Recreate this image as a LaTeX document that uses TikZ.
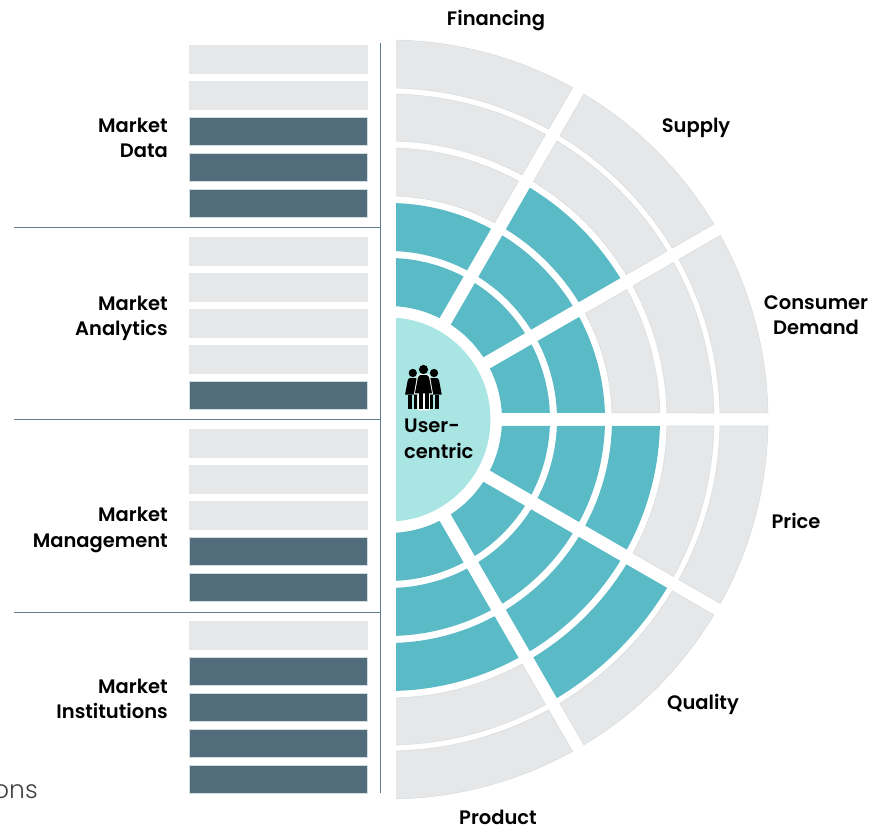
\documentclass[tikz,border=0pt]{standalone}
\usepackage{fontspec}
\setmainfont{Poppins}[BoldFont={Poppins SemiBold}]
\newfontfamily\stubfont{Poppins Light}
\usepackage{xcolor}
\usetikzlibrary{positioning}
\definecolor{cellgray}{HTML}{E6E7E8}
\definecolor{celledge}{HTML}{D9DADC}
\definecolor{cellteal}{HTML}{5ABAC6}
\definecolor{discteal}{HTML}{A9E5E2}
\definecolor{bardark}{HTML}{516C7A}
\definecolor{baredge}{HTML}{D3DCE0}
\definecolor{ruleblue}{HTML}{5F7F8F}
\definecolor{stubgray}{HTML}{444444}

% 環状セクターの描画 {開始角}{終了角}{内半径}{外半径}{スタイル}
\newcommand{\ringsector}[5]{%
  \pgfmathsetmacro{\innerpad}{asin(6.5/#3)}%
  \pgfmathsetmacro{\outerpad}{asin(6.5/#4)}%
  \draw[#5] ({#1+\innerpad}:#3pt) -- ({#1+\outerpad}:#4pt)
    arc[start angle={#1+\outerpad},end angle={#2-\outerpad},radius=#4pt]
    -- ({#2-\innerpad}:#3pt)
    arc[start angle={#2-\innerpad},end angle={#1+\innerpad},radius=#3pt]
    -- cycle;
}

\begin{document}
\begin{tikzpicture}[
    x=1pt,y=1pt,
    graycell/.style={
        fill=cellgray,
        draw=celledge,
        line width=0.5pt
      },
    tealcell/.style={
        fill=cellteal,
        draw=none
      },
    graybar/.style={
        fill=cellgray,
        draw=cellgray,
        line width=0.5pt
      },
    darkbar/.style={
        fill=bardark,
        draw=baredge,
        line width=0.5pt
      },
    divider/.style={
        draw=ruleblue,
        line width=0.9pt
      },
    caption/.style={
        font=\fontsize{19.5}{25.5}\selectfont\bfseries,
        align=center,
        inner sep=0pt
      },
    sidecaption/.style={
        caption,
        align=right,
        anchor=east
      },
    person/.pic={
        \fill (0,0) circle (4.6);
        \fill (-3.5,-5.6) -- (3.5,-5.6) -- (5.5,-7.5) -- (8.6,-24)
          -- (-8.6,-24) -- (-5.5,-7.5) -- cycle;
        \fill (-5,-24) rectangle (-1,-40);
        \fill (1,-24) rectangle (5,-40);
      }
  ]
  \useasboundingbox (0,0) rectangle (885,829);

  % 座標の定義
  \coordinate (centre) at (388.5,409.5);
  \coordinate (rule_top) at (380,786);
  \coordinate (rule_bottom) at (380,36);
  \coordinate (rule_a) at (14,602);
  \coordinate (rule_a_end) at (380,602);
  \coordinate (rule_b) at (14,410);
  \coordinate (rule_b_end) at (380,410);
  \coordinate (rule_c) at (14,217);
  \coordinate (rule_c_end) at (380,217);

  % 左側の帯
  \foreach \grouptop/\darkfrom in {45/3,237/5,429/4,621/2}{
    \foreach \i in {1,...,5}{
      \pgfmathsetmacro{\bartop}{829-\grouptop-36*(\i-1)}
      \ifnum\i<\darkfrom
        \draw[graybar] (189.5,\bartop) rectangle ++(177.5,-28.5);
      \else
        \draw[darkbar] (189.5,\bartop) rectangle ++(177.5,-28.5);
      \fi
    }
  }

  % 区切り線
  \draw[divider] (rule_top) -- (rule_bottom);
  \draw[divider] (rule_a) -- (rule_a_end);
  \draw[divider] (rule_b) -- (rule_b_end);
  \draw[divider] (rule_c) -- (rule_c_end);

  % 半円の描画
  \begin{scope}
    \clip (396,0) rectangle (885,829);
    \begin{scope}[shift={(centre)}]
      \foreach \fromangle/\toangle/\tealcount in {-100/-60/3,-60/-30/4,-30/0/3,0/30/2,30/60/3,60/100/2}{
        \foreach \ring/\rin/\rout in {1/113.5/161.5,2/168.5/216.5,3/223.5/271.5,4/278.5/325.5,5/331.5/379.5}{
          \ifnum\ring>\tealcount
            \ringsector{\fromangle}{\toangle}{\rin}{\rout}{graycell}
          \else
            \ringsector{\fromangle}{\toangle}{\rin}{\rout}{tealcell}
          \fi
        }
      }
      \fill[discteal] (0,0) circle (102);
    \end{scope}
  \end{scope}

  % 人物アイコン
  \pic[scale=0.9] at (412.8,456) {person};
  \pic[scale=0.9] at (434,456) {person};
  \begin{scope}[shift={(423.5,459.5)}]
    \fill[white] (-4.5,-5) -- (4.5,-5) -- (6.5,-7) -- (9.6,-25) -- (6,-25) -- (6,-41)
      -- (-6,-41) -- (-6,-25) -- (-9.6,-25) -- (-6.5,-7) -- cycle;
    \pic at (0,0) {person};
  \end{scope}

  % 中心円の文字
  \node[caption,align=left,anchor=west] (user_centric) at (404,390) {User-\\centric};

  % 左側のラベル
  \node[sidecaption] (market_data) at (168,691) {Market\\Data};
  \node[sidecaption] (market_analytics) at (168,510.5) {Market\\Analytics};
  \node[sidecaption] (market_management) at (168,299) {Market\\Management};
  \node[sidecaption] (market_institutions) at (168,130) {Market\\Institutions};

  % 周囲のラベル
  \node[caption] (financing) at (496,808) {Financing};
  \node[caption] (supply) at (696,701.5) {Supply};
  \node[caption] (consumer_demand) at (816,514) {Consumer\\Demand};
  \node[caption] (price) at (796,308) {Price};
  \node[caption] (quality) at (703,125) {Quality};
  \node[caption] (product) at (498,12) {Product};

  % 左下の切れた文字
  \node[font=\fontsize{25}{30}\stubfont,text=stubgray,anchor=east,inner sep=0pt] (stub_text) at (38,37) {ons};
\end{tikzpicture}
\end{document}
